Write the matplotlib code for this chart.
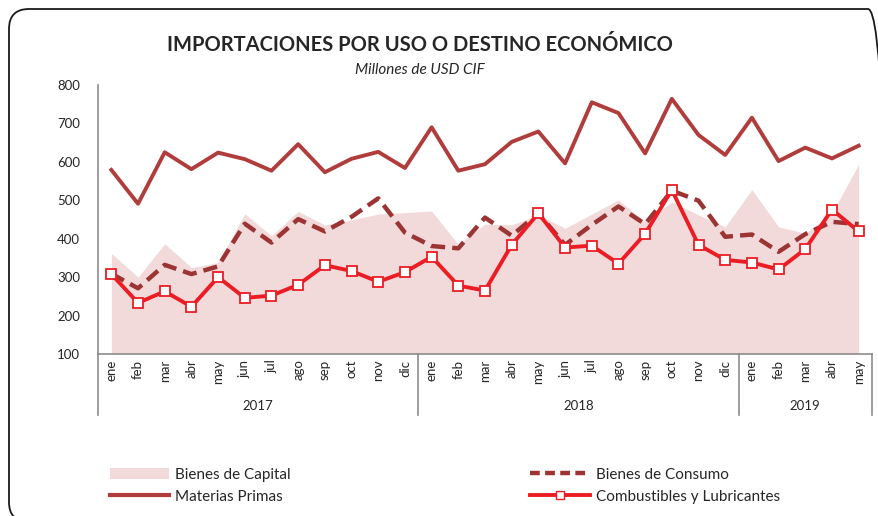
import matplotlib
matplotlib.use("Agg")
import matplotlib.pyplot as plt
from matplotlib.lines import Line2D
from matplotlib.patches import FancyBboxPatch, Patch
import matplotlib.transforms as mtransforms

plt.rcParams["font.family"] = ["Lato", "DejaVu Sans"]

months = ["ene", "feb", "mar", "abr", "may", "jun", "jul", "ago", "sep", "oct", "nov", "dic",
          "ene", "feb", "mar", "abr", "may", "jun", "jul", "ago", "sep", "oct", "nov", "dic",
          "ene", "feb", "mar", "abr", "may"]
years = ["2017", "2018", "2019"]
months_per_year = [12, 12, 5]

capital = [362, 300, 387, 325, 338, 465, 408, 471, 436, 449, 464, 468,
           472, 385, 438, 436, 462, 427, 464, 501, 444, 496, 462, 431,
           528, 431, 414, 466, 594]
consumo = [309, 271, 332, 308, 328, 439, 390, 451, 419, 457, 505, 416,
           381, 375, 455, 408, 466, 384, 436, 484, 438, 525, 499, 405,
           411, 366, 412, 444, 438]
materias = [579, 491, 625, 581, 624, 607, 577, 646, 573, 608, 626, 584,
            690, 577, 594, 652, 679, 596, 755, 727, 622, 764, 670, 618,
            715, 602, 637, 609, 642]
combustibles = [308, 233, 263, 223, 300, 246, 252, 280, 331, 316, 288, 313,
                353, 278, 265, 384, 466, 377, 382, 335, 413, 527, 384, 345,
                338, 320, 373, 476, 419]

C_AREA = "#f2dada"
C_MAT = "#b03c3c"
C_CONS = "#9c3434"
C_COMB = "#ec1c24"
TXT = "#262626"

W, H = 879, 516
fig = plt.figure(figsize=(W / 100, H / 100), dpi=100)

# rounded frame (in inches so corners stay round), clipped at right/bottom
frame = FancyBboxPatch((0.09, -0.06), 8.79, 5.13,
                       boxstyle="round,pad=0,rounding_size=0.2",
                       transform=fig.dpi_scale_trans, fill=False,
                       edgecolor="#1a1a1a", linewidth=1.3)
fig.patches.append(frame)

ax = fig.add_axes([98 / W, (H - 354) / H, (872 - 98) / W, (354 - 85) / H])
x = list(range(len(months)))

ax.fill_between(x, 100, capital, color=C_AREA, linewidth=0, zorder=1)
ax.plot(x, materias, color=C_MAT, lw=2.8, zorder=2)
ax.plot(x, consumo, color=C_CONS, lw=3.2, dashes=(3.2, 1.6), zorder=3)
ax.plot(x, combustibles, color=C_COMB, lw=2.8, marker="s", ms=7,
        mfc="white", mec=C_COMB, mew=1.3, zorder=4)

ax.set_xlim(-0.5, len(months) - 0.5)
ax.set_ylim(100, 800)
ax.set_yticks(range(100, 801, 100))
ax.tick_params(axis="y", length=0, labelsize=9.5, labelcolor=TXT, pad=13)
ax.set_xticks(x)
ax.set_xticklabels(months, rotation=90, fontsize=9.5, color=TXT)
ax.tick_params(axis="x", length=0, pad=4)
for s in ["top", "right"]:
    ax.spines[s].set_visible(False)
for s in ["left", "bottom"]:
    ax.spines[s].set_color("#8c8c8c")
    ax.spines[s].set_linewidth(1.2)

# year grouping lines and labels
trans = mtransforms.blended_transform_factory(ax.transData, ax.transAxes)
bounds = [-0.5]
for n in months_per_year:
    bounds.append(bounds[-1] + n)
for b in bounds:
    ax.plot([b, b], [0, -0.225], color="#8c8c8c", lw=1.2, transform=trans, clip_on=False)
for yr, a, b in zip(years, bounds[:-1], bounds[1:]):
    ax.text((a + b) / 2, -0.195, yr, transform=trans, ha="center", va="center",
            fontsize=9.5, color=TXT)

fig.text(420 / W, 1 - 45 / H, "IMPORTACIONES POR USO O DESTINO ECONÓMICO",
         ha="center", va="center", fontsize=14.5, fontweight="bold", color=TXT)
fig.text(420 / W, 1 - 70 / H, "Millones de USD CIF", ha="center", va="center",
         fontsize=11, style="italic", color=TXT)

handles = [
    Patch(facecolor=C_AREA, edgecolor="none"),
    Line2D([], [], color=C_MAT, lw=3),
    Line2D([], [], color=C_CONS, lw=3.2, dashes=(2.2, 1.2)),
    Line2D([], [], color=C_COMB, lw=2.8, marker="s", ms=6, mfc="white", mec=C_COMB),
]
labels = ["Bienes de Capital", "Materias Primas", "Bienes de Consumo",
          "Combustibles y Lubricantes"]
fig.legend(handles, labels, ncol=2, loc="upper left",
           bbox_to_anchor=(96 / W, 1 - 454 / H), frameon=False, fontsize=11,
           handlelength=3.9, handleheight=0.8, columnspacing=15.65, labelspacing=0.5,
           handletextpad=0.4, labelcolor=TXT)

fig.savefig("out.png", dpi=100)
